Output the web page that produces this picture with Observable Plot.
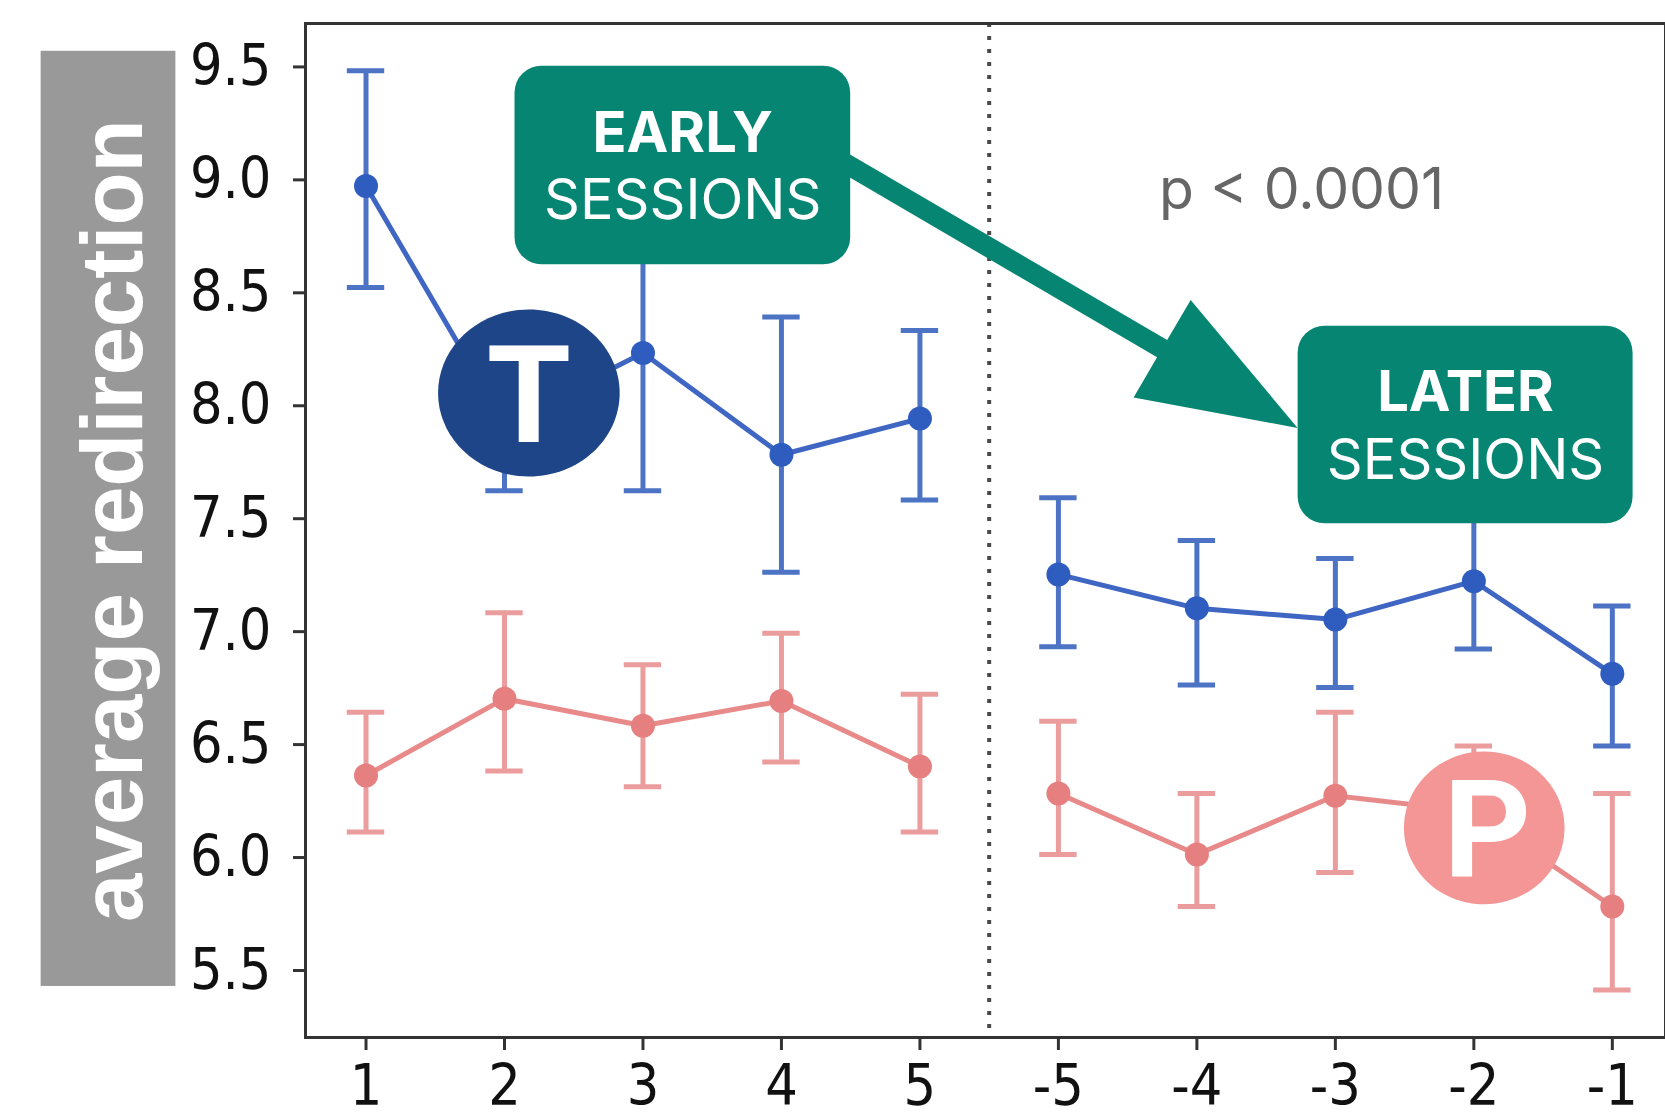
<!DOCTYPE html>
<html>
<head>
<meta charset="utf-8">
<script src="https://cdn.jsdelivr.net/npm/d3@7"></script>
<script src="https://cdn.jsdelivr.net/npm/@observablehq/plot@0.6"></script>
<style>
  html, body { margin: 0; padding: 0; background: #fff; }
  #chart svg { display: block; }
</style>
</head>
<body>
<div id="chart"></div>
<script>
// ---------- data ----------
const sessions = ["1", "2", "3", "4", "5", "-5", "-4", "-3", "-2", "-1"];
const phases   = ["early", "early", "early", "early", "early", "later", "later", "later", "later", "later"];

// T series (blue)
const tMean = [8.96, 7.91, 8.22, 7.77, 7.93, 7.24, 7.09, 7.04, 7.21, 6.80];
const tLow  = [8.51, 7.61, 7.61, 7.25, 7.57, 6.92, 6.75, 6.74, 6.91, 6.48];
const tHigh = [9.47, 8.22, 8.83, 8.38, 8.32, 7.58, 7.39, 7.31, 7.52, 7.10];

// P series (pink)
const pMean = [6.35, 6.69, 6.57, 6.68, 6.39, 6.27, 6.00, 6.26, 6.19, 5.77];
const pLow  = [6.10, 6.37, 6.30, 6.41, 6.10, 6.00, 5.77, 5.92, 5.90, 5.40];
const pHigh = [6.63, 7.07, 6.84, 6.98, 6.71, 6.59, 6.27, 6.63, 6.48, 6.27];

const yTicks = [5.5, 6.0, 6.5, 7.0, 7.5, 8.0, 8.5, 9.0, 9.5];
const dividerAt = 4.5;          // between session 5 and session -5
const yLabel = "average redirection";
const pText = "p < 0.0001";

// ---------- tables ----------
function build(series, mean, low, high) {
  return sessions.map((s, i) => ({series, i, session: s, phase: phases[i], mean: mean[i], low: low[i], high: high[i]}));
}
const tRows = build("T", tMean, tLow, tHigh);
const pRows = build("P", pMean, pLow, pHigh);

// ---------- style ----------
const C = {
  tLine: "#3f66c2", tDot: "#2f5cbf", tErr: "#4d73c4",
  pLine: "#e88a8a", pDot: "#e67f7f", pErr: "#eb9c9c",
  green: "#068672", tBadge: "#1f4589", pBadge: "#f49696",
  axis: "#333333", labelBox: "#999999"
};
const capHalf = 0.135;  // half cap width in x units
const lw = 5;

// ---------- annotation placement (data units) ----------
const labelBox = [{x1: -2.346, x2: -1.373, y1: 5.416, y2: 9.556}];
const labelText = [{x: -1.822, y: 7.478, text: yLabel}];
const earlyBox = [{x1: 1.076, x2: 3.500, y1: 8.611, y2: 9.490}];
const laterBox = [{x1: 6.731, x2: 9.150, y1: 7.464, y2: 8.339}];
const earlyTitle = [{x: 2.287, y: 9.110, text: "EARLY"}];
const earlySub = [{x: 2.287, y: 8.814, text: "SESSIONS"}];
const laterTitle = [{x: 7.940, y: 7.963, text: "LATER"}];
const laterSub = [{x: 7.940, y: 7.662, text: "SESSIONS"}];
const pLabel = [{x: 6.756, y: 8.856, text: pText}];
const tBadge = [{x: 1.176, y: 8.043, text: "T"}];
const pBadge = [{x: 8.075, y: 6.118, text: "P"}];
const arrow = {x1: 3.426, y1: 9.072, x2: 6.731, y2: 7.886};

function ellipseSymbol(rx, ry) {
  const k = 0.5522847498;
  return {
    draw(ctx) {
      ctx.moveTo(rx, 0);
      ctx.bezierCurveTo(rx, k * ry, k * rx, ry, 0, ry);
      ctx.bezierCurveTo(-k * rx, ry, -rx, k * ry, -rx, 0);
      ctx.bezierCurveTo(-rx, -k * ry, -k * rx, -ry, 0, -ry);
      ctx.bezierCurveTo(k * rx, -ry, rx, -k * ry, rx, 0);
      ctx.closePath();
    }
  };
}

function seriesMarks(rows, line, dot, err) {
  return [
    Plot.line(rows, {x: "i", y: "mean", z: "phase", stroke: line, strokeWidth: lw}),
    Plot.ruleX(rows, {x: "i", y1: "low", y2: "high", stroke: err, strokeWidth: lw}),
    Plot.ruleY(rows, {y: "low", x1: d => d.i - capHalf, x2: d => d.i + capHalf, stroke: err, strokeWidth: lw}),
    Plot.ruleY(rows, {y: "high", x1: d => d.i - capHalf, x2: d => d.i + capHalf, stroke: err, strokeWidth: lw}),
    Plot.dot(rows, {x: "i", y: "mean", r: 12, fill: dot, stroke: "none"})
  ];
}

function arrowMark(index, scales) {
  const x0 = scales.x(arrow.x1), y0 = scales.y(arrow.y1);
  const x1 = scales.x(arrow.x2), y1 = scales.y(arrow.y2);
  const dx = x1 - x0, dy = y1 - y0, L = Math.hypot(dx, dy);
  const ux = dx / L, uy = dy / L, nx = -uy, ny = ux;
  const sw = 10, hl = 157, hw = 56.5;
  const bx = x1 - ux * hl, by = y1 - uy * hl;
  const pts = [
    [x0 + nx * sw, y0 + ny * sw], [bx + nx * sw, by + ny * sw], [bx + nx * hw, by + ny * hw],
    [x1, y1],
    [bx - nx * hw, by - ny * hw], [bx - nx * sw, by - ny * sw], [x0 - nx * sw, y0 - ny * sw]
  ];
  const p = d3.create("svg:path")
    .attr("d", "M" + pts.map(q => q.join(",")).join("L") + "Z")
    .attr("fill", C.green);
  return p.node();
}

const boxFont = "Inter, Roboto, sans-serif";
const tickFont = "'DejaVu Sans Condensed', 'DejaVu Sans', sans-serif";

const chart = Plot.plot({
  width: 1665,
  height: 1115,
  marginLeft: 305,
  marginRight: 0,
  marginTop: 23,
  marginBottom: 78,
  x: {domain: [-0.437, 9.384], axis: null},
  y: {domain: [5.19, 9.679], axis: null},
  style: {background: "white", overflow: "visible"},
  marks: [
    Plot.ruleX([dividerAt], {stroke: "#4a4a4a", strokeWidth: 4, strokeDasharray: "4,9"}),
    ...seriesMarks(tRows, C.tLine, C.tDot, C.tErr),
    ...seriesMarks(pRows, C.pLine, C.pDot, C.pErr),
    Plot.frame({stroke: C.axis, strokeWidth: 3}),
    Plot.axisY({ticks: yTicks, tickFormat: d => d.toFixed(1), tickSize: 12, tickPadding: 22,
      fontSize: 57, fontFamily: tickFont, stroke: C.axis, fill: "#111", strokeWidth: 3, dy: 3, label: null}),
    Plot.axisX({ticks: sessions.map((_, i) => i), tickFormat: i => sessions[i], tickSize: 13, tickPadding: 14,
      fontSize: 57, fontFamily: tickFont, stroke: C.axis, fill: "#111", strokeWidth: 3, label: null}),
    // y label
    Plot.rect(labelBox, {x1: "x1", x2: "x2", y1: "y1", y2: "y2", fill: C.labelBox}),
    Plot.text(labelText, {x: "x", y: "y", text: "text", rotate: -90, fontSize: 87, fontWeight: "bold",
      fill: "white", fontFamily: "'Liberation Sans', Arial, sans-serif", lineAnchor: "middle", textAnchor: "middle"}),
    // arrow and boxes
    arrowMark,
    Plot.rect(earlyBox, {x1: "x1", x2: "x2", y1: "y1", y2: "y2", fill: C.green, rx: 27}),
    Plot.rect(laterBox, {x1: "x1", x2: "x2", y1: "y1", y2: "y2", fill: C.green, rx: 27}),
    Plot.text(earlyTitle, {x: "x", y: "y", text: "text", fontSize: 56, fontWeight: "bold", fill: "white", fontFamily: boxFont, lineAnchor: "bottom"}),
    Plot.text(earlySub, {x: "x", y: "y", text: "text", fontSize: 56, fill: "white", fontFamily: boxFont, lineAnchor: "bottom"}),
    Plot.text(laterTitle, {x: "x", y: "y", text: "text", fontSize: 56, fontWeight: "bold", fill: "white", fontFamily: boxFont, lineAnchor: "bottom"}),
    Plot.text(laterSub, {x: "x", y: "y", text: "text", fontSize: 56, fill: "white", fontFamily: boxFont, lineAnchor: "bottom"}),
    Plot.text(pLabel, {x: "x", y: "y", text: "text", fontSize: 57, fill: "#666", fontFamily: boxFont, lineAnchor: "bottom"}),
    // badges
    Plot.dot(tBadge, {x: "x", y: "y", symbol: ellipseSymbol(90.8, 83.5), fill: C.tBadge, stroke: "none"}),
    Plot.dot(pBadge, {x: "x", y: "y", symbol: ellipseSymbol(80.3, 76.3), fill: C.pBadge, stroke: "none"}),
    Plot.text(tBadge, {x: "x", y: "y", text: "text", fontSize: 136, fontWeight: "bold", fill: "white", fontFamily: "Roboto, sans-serif", lineAnchor: "middle", dy: 5}),
    Plot.text(pBadge, {x: "x", y: "y", text: "text", fontSize: 136, fontWeight: "bold", fill: "white", fontFamily: "Roboto, sans-serif", lineAnchor: "middle", dy: 5, dx: 3})
  ]
});
document.getElementById("chart").append(chart);
</script>
</body>
</html>
